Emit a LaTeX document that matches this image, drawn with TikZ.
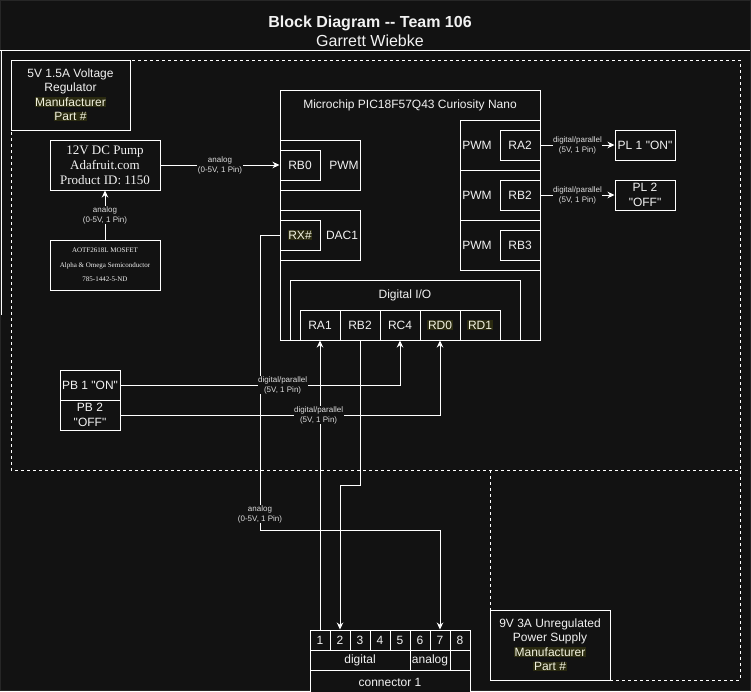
\documentclass[tikz,border=0pt]{standalone}
\usepackage{fontspec}
\newfontfamily\mainf{Liberation Sans}
\newfontfamily\serifface{Liberation Serif}
\usetikzlibrary{arrows.meta}
\definecolor{bg}{HTML}{121212}
\definecolor{edge}{HTML}{262626}
\definecolor{hlbg}{HTML}{2A2A10}
\definecolor{hltx}{HTML}{F2F2E0}
\definecolor{fg}{HTML}{F2F2F2}
\definecolor{lblc}{HTML}{DDDDDD}
\newcommand{\hlt}[1]{{\setlength{\fboxsep}{0.6pt}\colorbox{hlbg}{\textcolor{hltx}{#1}}}}
\begin{document}
\begin{tikzpicture}[x=1pt,y=-1pt,
  every node/.style={text=fg, font=\mainf\fontsize{12}{14.4}\selectfont},
  blk/.style={draw=white, line width=1pt, fill=bg, inner sep=0pt, align=center},
  txt/.style={inner sep=0pt, align=center},
  sz/.style 2 args={minimum width=#1pt, minimum height=#2pt},
  lbl/.style={fill=bg, inner sep=0.5pt, align=center, text=lblc, font=\mainf\fontsize{8}{10}\selectfont},
  wire/.style={draw=white, line width=1pt},
  arr/.style={wire, -{Stealth[length=7pt,width=6.5pt]}},
  dsh/.style={draw=white, line width=1pt, dash pattern=on 3pt off 3pt},
]
\fill[bg] (0,0) rectangle (751,691);
\useasboundingbox (0,0) rectangle (751,691);

% title
\node[txt, font=\mainf\fontsize{16}{19}\selectfont] (title) at (370,31.5) {\bfseries Block Diagram -- Team 106\\Garrett Wiebke};

% frames
\draw[edge, line width=1pt] (0.5,0.5) rectangle (750.5,690.5);
\draw[wire] (0,50) -- (750,50);
\draw[wire] (1,50) -- (1,315);
\draw[dsh] (11,60) rectangle (740,470);
\draw[dsh] (490,470) rectangle (740,680);

% left blocks
\node[blk, sz={119}{70}] (reg) at (70.5,95) {5V 1.5A Voltage\\Regulator\\\hlt{Manufacturer}\\\hlt{Part \#}};
\node[blk, sz={110}{50}, font=\serifface\fontsize{13}{15}\selectfont] (pump) at (105,165) {12V DC Pump\\Adafruit.com\\Product ID: 1150};
\node[blk, sz={110}{50}, font=\serifface\fontsize{7}{14.5}\selectfont] (mosfet) at (105,265) {AOTF2618L MOSFET\\Alpha \& Omega Semiconductor\\785-1442-5-ND};

% MCU
\node[blk, sz={260}{250}] (mcu) at (410,215) {};
\node[txt] (mcutitle) at (410,105) {Microchip PIC18F57Q43 Curiosity Nano};
\node[blk, sz={80}{50}] (pwml) at (320,165) {};
\node[txt] (pwmltx) at (344,165) {PWM};
\node[blk, sz={40}{30}] (rb0) at (300,165) {RB0};
\node[blk, sz={80}{50}] (dac) at (320,235) {};
\node[txt] (dactx) at (342,235) {DAC1};
\node[blk, sz={40}{30}] (rx) at (300,235) {\hlt{RX\#}};

\node[blk, sz={80}{50}] (pwmr1) at (500,145) {};
\node[txt] (pwmr1tx) at (477,145) {PWM};
\node[blk, sz={40}{30}] (ra2) at (520,145) {RA2};
\node[blk, sz={80}{50}] (pwmr2) at (500,195) {};
\node[txt] (pwmr2tx) at (477,195) {PWM};
\node[blk, sz={40}{30}] (rb2r) at (520,195) {RB2};
\node[blk, sz={80}{50}] (pwmr3) at (500,245) {};
\node[txt] (pwmr3tx) at (477,245) {PWM};
\node[blk, sz={40}{30}] (rb3) at (520,245) {RB3};

\node[blk, sz={230}{60}] (dio) at (405,310) {};
\node[txt] (diotx) at (405,295) {Digital I/O};
\node[blk, sz={40}{30}] (ra1) at (320,325) {RA1};
\node[blk, sz={40}{30}] (rb2p) at (360,325) {RB2};
\node[blk, sz={40}{30}] (rc4) at (400,325) {RC4};
\node[blk, sz={40}{30}] (rd0) at (440,325) {\hlt{RD0}};
\node[blk, sz={40}{30}] (rd1) at (480,325) {\hlt{RD1}};

% pilot lights
\node[blk, sz={60}{30}] (pl1) at (645,145) {PL 1 "ON"};
\node[blk, sz={60}{30}] (pl2) at (645,195) {PL 2\\"OFF"};

% push buttons
\node[blk, sz={60}{30}] (pb1) at (90,385) {PB 1 "ON"};
\node[blk, sz={60}{30}] (pb2) at (90,415) {PB 2\\"OFF"};

% connector
\foreach \i in {1,...,8} \node[blk, sz={20}{20}] (c\i) at ({300+20*\i},640) {\i};
\node[blk, sz={100}{20}] (cdig) at (360,660) {digital};
\node[blk, sz={40}{20}] (cana) at (430,660) {analog};
\node[blk, sz={20}{20}] (cemp) at (460,660) {};
\node[blk, sz={160}{24}] (conn) at (390,682) {connector 1};

% power supply
\node[blk, sz={120}{70}] (psu) at (550,645) {9V 3A Unregulated\\Power Supply\\\hlt{Manufacturer}\\\hlt{Part \#}};

% connectors
\draw[arr] (mosfet.north) -- node[lbl]{analog\\(0-5V, 1 Pin)} (pump.south);
\draw[arr] (pump.east) -- node[lbl]{analog\\(0-5V, 1 Pin)} (rb0.west);
\draw[arr] (ra2.east) -- node[lbl]{digital/parallel\\(5V, 1 Pin)} (pl1.west);
\draw[arr] (rb2r.east) -- node[lbl]{digital/parallel\\(5V, 1 Pin)} (pl2.west);

\coordinate (rxa) at (260,235);
\coordinate (rxb) at (260,530);
\coordinate (rxc) at (440,530);
\draw[arr] (rx.west) -- (rxa) -- node[lbl,pos=0.946]{analog\\(0-5V, 1 Pin)} (rxb) -- (rxc) -- (c7.north);

\coordinate (rba) at (360,485);
\coordinate (rbb) at (340,485);
\draw[arr] (rb2p.south) -- (rba) -- (rbb) -- (c2.north);
\draw[arr] (c1.north) -- (ra1.south);

\draw[arr] (pb1.east) -| node[lbl,pos=0.29]{digital/parallel\\(5V, 1 Pin)} (rc4.south);
\draw[arr] (pb2.east) -| node[lbl,pos=0.31]{digital/parallel\\(5V, 1 Pin)} (rd0.south);
\end{tikzpicture}
\end{document}
